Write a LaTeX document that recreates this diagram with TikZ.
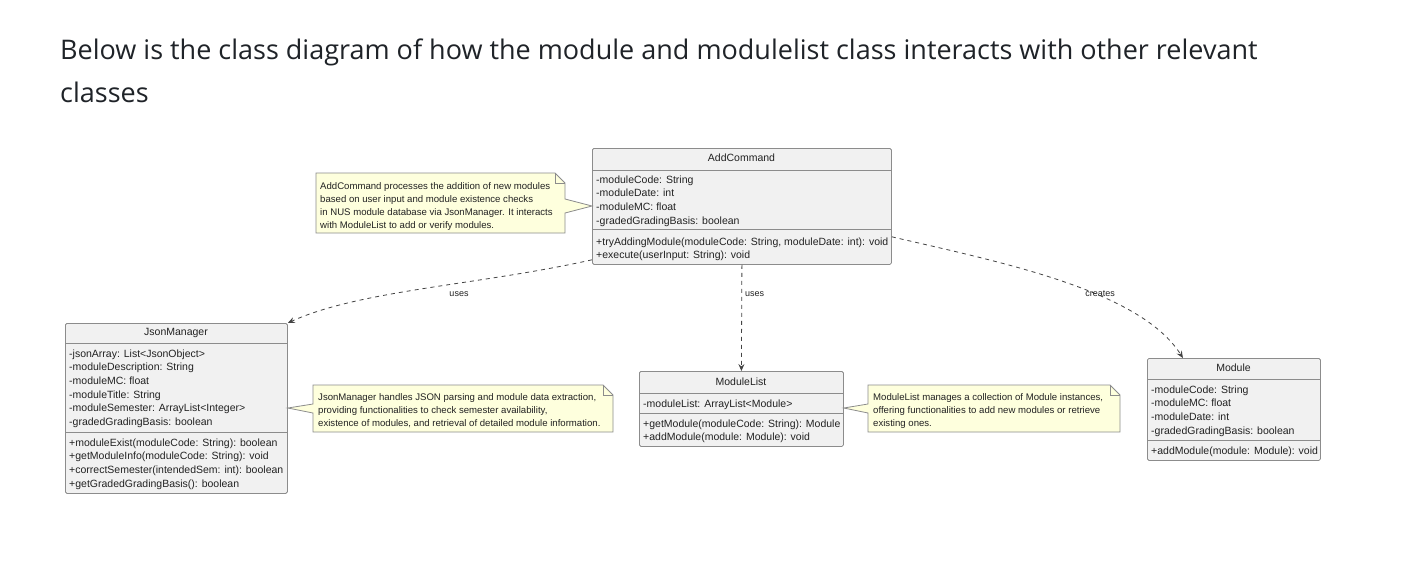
\documentclass[tikz,border=0pt]{standalone}
\usepackage{fontspec}
\setmainfont{Liberation Sans}
\newfontfamily\titlefont{Open Sans}
\usetikzlibrary{arrows.meta}
\definecolor{clsfill}{HTML}{F1F1F1}
\definecolor{clsline}{HTML}{8C8C8C}
\definecolor{notefill}{HTML}{FEFFDD}
\definecolor{titlecol}{HTML}{1F2328}
\definecolor{linkcol}{HTML}{444444}
\definecolor{txtcol}{HTML}{222222}
\begin{document}
\begin{tikzpicture}[x=1pt,y=-1pt,
  clsbox/.style={draw=clsline, fill=clsfill, line width=0.8pt, rounded corners=1.5pt, inner sep=0pt, anchor=north west},
  sep/.style={draw=clsline, line width=0.8pt},
  ctext/.style={font=\fontsize{10.5}{13.7}\selectfont, text=txtcol, inner sep=0pt, align=left, anchor=north west},
  chead/.style={font=\fontsize{10.5}{13.7}\selectfont, text=txtcol, inner sep=0pt},
  ntext/.style={font=\fontsize{9.6}{13}\selectfont, text=txtcol, inner sep=0pt, align=left, anchor=north west},
  notebox/.style={draw=clsline, fill=notefill, line width=0.8pt, line join=miter},
  dep/.style={draw=linkcol, line width=0.8pt, dash pattern=on 4pt off 4pt, -{Stealth[length=7pt,width=6pt,inset=2.5pt]}},
  lbl/.style={font=\fontsize{9}{11}\selectfont, text=txtcol, inner sep=0pt},
  ttl/.style={font=\titlefont\fontsize{27}{43}\selectfont, text=titlecol, anchor=base west, inner sep=0pt},
]
\useasboundingbox (0,0) rectangle (1411,571);
\fill[white] (0,0) rectangle (1411,571);

% title
\node[ttl] (title1) at (60,59) {Below is the class diagram of how the module and modulelist class interacts with other relevant};
\node[ttl] (title2) at (60,102) {classes};

% AddCommand
\node[clsbox, minimum width=299pt, minimum height=116pt] (ac) at (592,148) {};
\node[chead] (acname) at (741.5,158) {AddCommand};
\draw[sep] (592,170) -- (891,170);
\node[ctext] (acattr) at (596,175.3) {-moduleCode: String\\-moduleDate: int\\-moduleMC: float\\-gradedGradingBasis: boolean};
\draw[sep] (592,229) -- (891,229);
\node[ctext] (acmeth) at (596,237.3) {+tryAddingModule(moduleCode: String, moduleDate: int): void\\+execute(userInput: String): void};

% JsonManager
\node[clsbox, minimum width=222pt, minimum height=170pt] (jm) at (65,323) {};
\node[chead] (jmname) at (176,333) {JsonManager};
\draw[sep] (65,343) -- (287,343);
\node[ctext] (jmattr) at (69,349.3) {-jsonArray: List<JsonObject>\\-moduleDescription: String\\-moduleMC: float\\-moduleTitle: String\\-moduleSemester: ArrayList<Integer>\\-gradedGradingBasis: boolean};
\draw[sep] (65,432) -- (287,432);
\node[ctext] (jmmeth) at (69,438.3) {+moduleExist(moduleCode: String): boolean\\+getModuleInfo(moduleCode: String): void\\+correctSemester(intendedSem: int): boolean\\+getGradedGradingBasis(): boolean};

% ModuleList
\node[clsbox, minimum width=204pt, minimum height=75pt] (ml) at (639,371) {};
\node[chead] (mlname) at (741,382) {ModuleList};
\draw[sep] (639,393) -- (843,393);
\node[ctext] (mlattr) at (643,399.3) {-moduleList: ArrayList<Module>};
\draw[sep] (639,413) -- (843,413);
\node[ctext] (mlmeth) at (643,419.3) {+getModule(moduleCode: String): Module\\+addModule(module: Module): void};

% Module
\node[clsbox, minimum width=173pt, minimum height=102pt] (mod) at (1147,358) {};
\node[chead] (modname) at (1233.5,368) {Module};
\draw[sep] (1147,379) -- (1320,379);
\node[ctext] (modattr) at (1151,385.3) {-moduleCode: String\\-moduleMC: float\\-moduleDate: int\\-gradedGradingBasis: boolean};
\draw[sep] (1147,440) -- (1320,440);
\node[ctext] (modmeth) at (1151,446.3) {+addModule(module: Module): void};

% Notes
\draw[notebox] (316,173) -- (555,173) -- (565,183) -- (565,199) -- (ac.west |- 0,206) -- (565,213) -- (565,233) -- (316,233) -- cycle;
\draw[notebox, fill=none] (555,173) -- (555,183) -- (565,183);
\node[ntext] (acnote) at (320,182.5) {AddCommand processes the addition of new modules\\based on user input and module existence checks\\in NUS module database via JsonManager. It interacts\\with ModuleList to add or verify modules.};

\draw[notebox] (313,385) -- (603,385) -- (613,395) -- (613,432) -- (313,432) -- (313,413) -- (jm.east |- 0,408) -- (313,404) -- cycle;
\draw[notebox, fill=none] (603,385) -- (603,395) -- (613,395);
\node[ntext] (jmnote) at (318,393.5) {JsonManager handles JSON parsing and module data extraction,\\providing functionalities to check semester availability,\\existence of modules, and retrieval of detailed module information.};

\draw[notebox] (868,385) -- (1110,385) -- (1120,395) -- (1120,432) -- (868,432) -- (868,413) -- (ml.east |- 0,408) -- (868,404) -- cycle;
\draw[notebox, fill=none] (1110,385) -- (1110,395) -- (1120,395);
\node[ntext] (mlnote) at (873,393.5) {ModuleList manages a collection of Module instances,\\offering functionalities to add new modules or retrieve\\existing ones.};

% Dependencies
\draw[dep] ([yshift=5pt]ac.south west) .. controls (480,285) and (360,290) .. (jm.north east);
\node[lbl] (l1) at (459,294) {uses};
\draw[dep] (ac.south) -- (ml.north);
\node[lbl, anchor=west] (l2) at (745,294) {uses};
\draw[dep] ([yshift=28pt]ac.south east) .. controls (1000,262) and (1140,290) .. ([xshift=-51pt]mod.north);
\node[lbl] (l3) at (1100,294) {creates};
\end{tikzpicture}
\end{document}
